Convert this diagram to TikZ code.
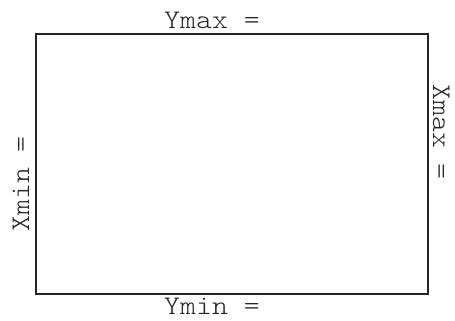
\documentclass[tikz,border=0pt]{standalone}
\usepackage{graphicx}
\newcommand{\wide}[1]{\scalebox{1.13}[1]{#1}}
\begin{document}
\begin{tikzpicture}[x=1bp,y=-1bp,
  lbl/.style={font=\ttfamily\fontseries{l}\fontsize{27}{27}\selectfont, inner sep=0pt, text=black!85}]
\useasboundingbox (0,0) rectangle (455,320);
\draw[line width=2bp, black!85] (36,34) rectangle (428,294);
\node[lbl, anchor=base west] (ymax) at (164,28) {\wide{Ymax =}};
\node[lbl, anchor=base west] (ymin) at (164,314) {\wide{Ymin =}};
\node[lbl, anchor=base west, rotate=90] (xmin) at (29,232) {\wide{Xmin =}};
\node[lbl, anchor=base west, rotate=-90] (xmax) at (433,84) {\wide{Xmax =}};
\end{tikzpicture}
\end{document}
